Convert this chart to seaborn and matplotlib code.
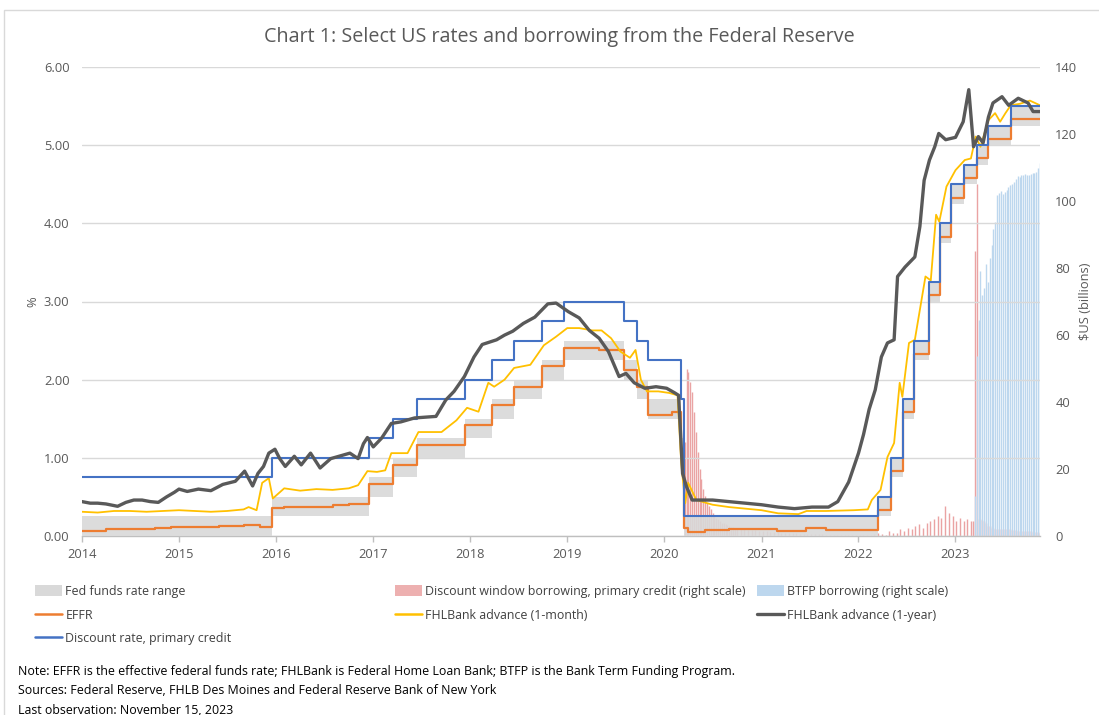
import numpy as np
import pandas as pd
import matplotlib
matplotlib.use("Agg")
import matplotlib.pyplot as plt
import matplotlib.dates as mdates
from matplotlib.patches import Patch, Rectangle
from matplotlib.lines import Line2D
import seaborn as sns

# ---------------- data ----------------
policy_dates = ['2014-01-01', '2015-12-17', '2016-12-15', '2017-03-16', '2017-06-15', '2017-12-14',
                '2018-03-22', '2018-06-14', '2018-09-27', '2018-12-20', '2019-08-01', '2019-09-19',
                '2019-10-31', '2020-03-04', '2020-03-16', '2022-03-17', '2022-05-05', '2022-06-16',
                '2022-07-28', '2022-09-22', '2022-11-03', '2022-12-15', '2023-02-02', '2023-03-23',
                '2023-05-04', '2023-07-27', '2023-11-15']
ffr_lower = [0.00, 0.25, 0.50, 0.75, 1.00, 1.25, 1.50, 1.75, 2.00, 2.25, 2.00, 1.75, 1.50, 1.00, 0.00,
             0.25, 0.75, 1.50, 2.25, 3.00, 3.75, 4.25, 4.50, 4.75, 5.00, 5.25, 5.25]
ffr_upper = [0.25, 0.50, 0.75, 1.00, 1.25, 1.50, 1.75, 2.00, 2.25, 2.50, 2.25, 2.00, 1.75, 1.25, 0.25,
             0.50, 1.00, 1.75, 2.50, 3.25, 4.00, 4.50, 4.75, 5.00, 5.25, 5.50, 5.50]
discount_rate = [0.75, 1.00, 1.25, 1.50, 1.75, 2.00, 2.25, 2.50, 2.75, 3.00, 2.75, 2.50, 2.25, 1.75, 0.25,
                 0.50, 1.00, 1.75, 2.50, 3.25, 4.00, 4.50, 4.75, 5.00, 5.25, 5.50, 5.50]

effr_dates = ['2014-01-01', '2014-04-01', '2014-08-01', '2014-10-01', '2014-12-01', '2015-03-01',
              '2015-06-01', '2015-09-01', '2015-11-01', '2015-12-17', '2016-02-01', '2016-05-01',
              '2016-08-01', '2016-10-01', '2016-12-15', '2017-03-16', '2017-06-15', '2017-12-14',
              '2018-03-22', '2018-06-14', '2018-09-27', '2018-12-20', '2019-04-01', '2019-05-01',
              '2019-08-01', '2019-09-19', '2019-10-31', '2020-02-01', '2020-03-04', '2020-03-16',
              '2020-04-01', '2020-06-01', '2020-09-01', '2021-03-01', '2021-06-17', '2021-09-01',
              '2022-03-17', '2022-05-05', '2022-06-16', '2022-07-28', '2022-09-22', '2022-11-03',
              '2022-12-15', '2023-02-02', '2023-03-23', '2023-05-04', '2023-07-27', '2023-11-15']
effr_vals = [0.07, 0.09, 0.09, 0.10, 0.12, 0.11, 0.13, 0.14, 0.12, 0.36, 0.37, 0.37, 0.40, 0.41, 0.66,
             0.91, 1.16, 1.42, 1.68, 1.91, 2.18, 2.40, 2.41, 2.38, 2.13, 1.90, 1.55, 1.58, 1.10, 0.10,
             0.05, 0.08, 0.09, 0.07, 0.10, 0.08, 0.33, 0.83, 1.58, 2.33, 3.08, 3.83, 4.33, 4.58, 4.83,
             5.08, 5.33, 5.33]

fhl1m_dates = ['2014-01-01', '2014-03-01', '2014-05-01', '2014-07-01', '2014-09-01', '2014-11-01',
               '2015-01-01', '2015-03-01', '2015-05-01', '2015-07-01', '2015-09-01', '2015-09-20',
               '2015-10-20', '2015-11-10', '2015-12-05', '2015-12-20', '2016-02-01', '2016-04-01',
               '2016-06-01', '2016-08-01', '2016-10-01', '2016-11-05', '2016-12-10', '2017-01-15',
               '2017-02-15', '2017-03-10', '2017-05-10', '2017-06-20', '2017-09-15', '2017-11-10',
               '2017-12-20', '2018-02-01', '2018-03-10', '2018-04-01', '2018-05-10', '2018-06-15',
               '2018-08-15', '2018-10-05', '2018-11-20', '2019-01-01', '2019-02-15', '2019-04-05',
               '2019-05-10', '2019-06-15', '2019-07-20', '2019-08-25', '2019-09-15', '2019-10-05',
               '2019-10-28', '2019-12-10', '2020-01-20', '2020-02-20', '2020-03-05', '2020-03-20',
               '2020-03-31', '2020-05-01', '2020-07-01', '2020-09-01', '2020-11-01', '2021-01-01',
               '2021-03-05', '2021-05-20', '2021-06-20', '2021-09-01', '2021-12-15', '2022-02-05',
               '2022-02-20', '2022-03-25', '2022-04-20', '2022-05-15', '2022-06-05', '2022-06-15',
               '2022-07-10', '2022-08-01', '2022-09-10', '2022-09-30', '2022-10-20', '2022-11-01',
               '2022-11-28', '2023-01-01', '2023-02-05', '2023-02-28', '2023-03-18', '2023-04-05',
               '2023-05-05', '2023-05-30', '2023-06-18', '2023-07-08', '2023-07-28', '2023-09-01',
               '2023-10-08', '2023-11-15']
fhl1m_vals = [0.31, 0.30, 0.32, 0.32, 0.31, 0.32, 0.33, 0.32, 0.31, 0.32, 0.34, 0.37, 0.33, 0.68, 0.74,
              0.48, 0.61, 0.58, 0.60, 0.59, 0.61, 0.65, 0.83, 0.82, 0.84, 1.06, 1.06, 1.33, 1.33, 1.48,
              1.64, 1.59, 1.96, 1.91, 2.00, 2.15, 2.19, 2.44, 2.55, 2.66, 2.66, 2.63, 2.63, 2.53, 2.36,
              2.28, 2.38, 2.00, 1.85, 1.85, 1.83, 1.80, 0.93, 0.42, 0.68, 0.46, 0.40, 0.37, 0.35, 0.33,
              0.29, 0.28, 0.32, 0.32, 0.33, 0.34, 0.46, 0.59, 1.01, 1.19, 1.96, 1.78, 2.47, 2.51, 3.32,
              3.27, 4.11, 4.02, 4.47, 4.68, 4.81, 4.83, 5.11, 4.98, 5.32, 5.41, 5.30, 5.41, 5.51, 5.53,
              5.57, 5.51]

fhl1y_dates = ['2014-01-01', '2014-02-01', '2014-03-01', '2014-04-01', '2014-05-15', '2014-06-15',
               '2014-07-15', '2014-08-15', '2014-09-15', '2014-10-15', '2014-11-15', '2014-12-15',
               '2015-01-01', '2015-02-01', '2015-03-15', '2015-05-01', '2015-06-15', '2015-08-01',
               '2015-09-05', '2015-10-05', '2015-10-25', '2015-11-15', '2015-12-05', '2015-12-28',
               '2016-01-15', '2016-02-05', '2016-03-10', '2016-04-05', '2016-05-10', '2016-06-15',
               '2016-07-25', '2016-08-25', '2016-10-05', '2016-11-05', '2016-11-25', '2016-12-10',
               '2017-01-01', '2017-02-01', '2017-03-10', '2017-04-15', '2017-06-05', '2017-07-15',
               '2017-08-25', '2017-10-01', '2017-11-01', '2017-12-10', '2018-01-15', '2018-02-15',
               '2018-04-10', '2018-05-10', '2018-06-10', '2018-07-20', '2018-09-01', '2018-10-20',
               '2018-11-20', '2019-01-05', '2019-02-15', '2019-03-25', '2019-05-01', '2019-06-05',
               '2019-07-15', '2019-08-10', '2019-09-10', '2019-10-20', '2019-12-01', '2020-01-10',
               '2020-02-10', '2020-02-24', '2020-03-05', '2020-03-10', '2020-03-25', '2020-04-15',
               '2020-07-01', '2020-10-01', '2020-11-01', '2021-01-01', '2021-03-05', '2021-05-05',
               '2021-07-10', '2021-09-10', '2021-10-15', '2021-11-25', '2022-01-01', '2022-01-20',
               '2022-02-10', '2022-03-05', '2022-03-28', '2022-04-20', '2022-05-15', '2022-05-28',
               '2022-06-25', '2022-08-01', '2022-08-20', '2022-09-05', '2022-09-25', '2022-10-15',
               '2022-10-30', '2022-11-25', '2023-01-01', '2023-01-30', '2023-02-20', '2023-03-10',
               '2023-03-28', '2023-04-15', '2023-05-05', '2023-05-22', '2023-06-25', '2023-07-20',
               '2023-08-25', '2023-10-01', '2023-10-20', '2023-11-15']
fhl1y_vals = [0.44, 0.42, 0.42, 0.41, 0.38, 0.43, 0.46, 0.46, 0.44, 0.43, 0.50, 0.56, 0.60, 0.57, 0.60,
              0.58, 0.66, 0.70, 0.83, 0.64, 0.80, 0.89, 1.06, 1.11, 0.99, 0.89, 1.02, 0.91, 1.06, 0.87,
              0.99, 1.02, 1.06, 0.99, 1.18, 1.26, 1.14, 1.25, 1.44, 1.46, 1.51, 1.52, 1.53, 1.74, 1.85,
              2.04, 2.29, 2.45, 2.51, 2.57, 2.62, 2.72, 2.80, 2.97, 2.98, 2.87, 2.79, 2.63, 2.53, 2.36,
              2.04, 2.08, 1.96, 1.89, 1.91, 1.89, 1.83, 1.80, 1.14, 0.80, 0.63, 0.46, 0.46, 0.43, 0.42,
              0.40, 0.37, 0.35, 0.37, 0.37, 0.44, 0.69, 1.06, 1.30, 1.62, 1.87, 2.29, 2.47, 2.51, 3.32,
              3.44, 3.57, 3.96, 4.55, 4.81, 4.98, 5.15, 5.07, 5.10, 5.30, 5.71, 4.98, 5.11, 5.03, 5.36,
              5.54, 5.62, 5.51, 5.60, 5.54, 5.43, 5.43]

# Discount window borrowing, primary credit ($bn): weekly, then biweekly, then weekly
dw_vals_a = [28, 50, 49, 46, 43, 37, 31, 25, 20, 17, 14, 12, 10, 9, 8, 7, 6, 5.5, 5, 4.5, 4, 3.8, 3.5,
             3.2, 3.0, 2.8, 2.6, 2.4, 2.2]
dw_vals_b = [2.1, 2.0, 1.9, 1.8, 1.7, 1.6, 1.5, 1.4, 1.3, 1.2, 1.1, 1.0, 1.0, 0.9, 0.8, 0.8, 0.7, 0.7,
             0.6, 0.6, 0.5, 0.5, 0.5, 0.4, 0.4, 0.4, 0.4, 0.4, 0.3, 0.3, 0.3, 0.3, 0.3, 0.3, 0.3, 0.3,
             0.5, 1.0, 0.6, 0.4, 1.5, 1.0, 0.8, 2.0, 1.5, 2.5, 2.0, 3.0, 3.5, 2.5, 4.0, 4.5, 5.0, 6.0,
             5.5, 9.0, 7.0, 6.0, 4.5, 5.5, 4.5, 5.0, 4.5]
dw_vals_c = [4.6, 85, 105, 5, 5, 4.7, 4.5, 4, 3, 3, 2.5, 2.5, 2, 2, 2, 2, 2, 2, 2, 2, 2, 1.8, 1.8, 1.8,
             1.5, 1.5, 1.5, 1.5, 1.5, 1.5, 1.5, 1.5, 1.2, 1.2, 1.2, 1.2, 1.0]
# BTFP borrowing ($bn), weekly from 15 March 2023
btfp_vals = [11.9, 53.7, 64.4, 79.0, 71.8, 74.0, 81.3, 75.8, 83.1, 86.8, 91.6, 93.6, 101.9, 102.3,
             103.1, 102.2, 102.6, 103.2, 104.1, 104.9, 105.1, 105.7, 106.6, 107.6, 107.1, 107.9,
             107.7, 108.0, 107.9, 107.7, 108.0, 108.4, 108.3, 108.8, 109.8, 111.3]

title = "Chart 1: Select US rates and borrowing from the Federal Reserve"
legend_labels = ["Fed funds rate range", "EFFR", "Discount rate, primary credit",
                 "Discount window borrowing, primary credit (right scale)", "FHLBank advance (1-month)",
                 "BTFP borrowing (right scale)", "FHLBank advance (1-year)"]
notes = ["Note: EFFR is the effective federal funds rate; FHLBank is Federal Home Loan Bank; BTFP is the Bank Term Funding Program.",
         "Sources: Federal Reserve, FHLB Des Moines and Federal Reserve Bank of New York",
         "Last observation: November 15, 2023"]

# ---------------- frames ----------------
pol = pd.DataFrame({"date": pd.to_datetime(policy_dates), "lo": ffr_lower, "hi": ffr_upper,
                    "disc": discount_rate})
effr = pd.DataFrame({"date": pd.to_datetime(effr_dates), "v": effr_vals})
m1 = pd.DataFrame({"date": pd.to_datetime(fhl1m_dates), "v": fhl1m_vals})
y1 = pd.DataFrame({"date": pd.to_datetime(fhl1y_dates), "v": fhl1y_vals})
dw = pd.concat([
    pd.DataFrame({"date": pd.date_range("2020-03-18", periods=len(dw_vals_a), freq="7D"), "v": dw_vals_a}),
    pd.DataFrame({"date": pd.date_range("2020-10-14", periods=len(dw_vals_b), freq="14D"), "v": dw_vals_b}),
    pd.DataFrame({"date": pd.date_range("2023-03-08", periods=len(dw_vals_c), freq="7D"), "v": dw_vals_c}),
])
btfp = pd.DataFrame({"date": pd.date_range("2023-03-15", periods=len(btfp_vals), freq="7D"), "v": btfp_vals})

# ---------------- style ----------------
sns.set_theme(style="white")
plt.rcParams["font.family"] = ["Open Sans", "DejaVu Sans"]
TXT = "#595959"
LEGTXT = "#404040"
C_BAND = "#d9d9d9"
C_DW = "#eaa3a3"
C_BTFP = "#bdd7ee"
C_EFFR = "#ed7d31"
C_M1 = "#ffc000"
C_Y1 = "#595959"
C_DISC = "#4472c4"

W, H = 1099, 715
fig = plt.figure(figsize=(W / 100, H / 100), dpi=100)
fig.patch.set_facecolor("white")
fig.add_artist(Rectangle((4 / W, -0.05), 1.2, 1 - 10 / H + 0.05, transform=fig.transFigure,
                         fill=False, edgecolor="#d9d9d9", lw=1.0))

L, R, T, B = 82, 1040, 67, 536
ax = fig.add_axes([L / W, 1 - B / H, (R - L) / W, (B - T) / H])
ax2 = ax.twinx()
ax.set_zorder(ax2.get_zorder() + 1)
ax.patch.set_visible(False)

# bars (right scale)
ax2.vlines(dw["date"], 0, dw["v"], color=C_DW, lw=1.0)
ax2.vlines(btfp["date"], 0, btfp["v"], color=C_BTFP, lw=1.0)

# band
ax.fill_between(pol["date"], pol["lo"], pol["hi"], step="post", color=C_BAND, lw=0, zorder=1, alpha=0.9)

sns.lineplot(data=effr, x="date", y="v", ax=ax, color=C_EFFR, lw=1.6, drawstyle="steps-post",
             legend=False, zorder=3)
sns.lineplot(data=m1, x="date", y="v", ax=ax, color=C_M1, lw=1.3, legend=False, zorder=4)
sns.lineplot(data=pol, x="date", y="disc", ax=ax, color=C_DISC, lw=1.5, drawstyle="steps-post",
             legend=False, zorder=5)
sns.lineplot(data=y1, x="date", y="v", ax=ax, color=C_Y1, lw=2.4, legend=False, zorder=6)

x0, x1 = pd.Timestamp("2014-01-01"), pd.Timestamp("2023-11-15")
ax.set_xlim(x0, x1)
ax.set_ylim(0, 6)
ax2.set_ylim(0, 140)
ax.set_yticks(np.arange(0, 6.01, 1.0))
ax.yaxis.set_major_formatter(matplotlib.ticker.FormatStrFormatter("%.2f"))
ax2.set_yticks(np.arange(0, 141, 20))
ax.xaxis.set_major_locator(mdates.YearLocator())
ax.xaxis.set_major_formatter(mdates.DateFormatter("%Y"))

ax.yaxis.grid(True, color="#d9d9d9", lw=1.0)
ax.xaxis.grid(False)
ax2.grid(False)
ax.set_axisbelow(True)
for a in (ax, ax2):
    for s in a.spines.values():
        s.set_visible(False)
ax.spines["bottom"].set_visible(True)
ax.spines["bottom"].set_color("#bfbfbf")
ax.spines["bottom"].set_linewidth(1.0)
ax.spines["bottom"].set_zorder(0.5)

ax.tick_params(axis="x", direction="out", length=4, width=1, color="#bfbfbf", labelsize=9.3,
               labelcolor=TXT, pad=5, bottom=True)
ax.tick_params(axis="y", length=0, labelsize=9.3, labelcolor=TXT, pad=9)
ax2.tick_params(axis="y", length=0, labelsize=9.3, labelcolor=TXT, pad=11)
ax.set_xlabel("")
ax.set_ylabel("%", color=TXT, fontsize=9.3, labelpad=3)
ax2.set_ylabel(r"\$US (billions)", color=TXT, fontsize=9.3, labelpad=1)

fig.text(0.509, 1 - 37 / H, title, ha="center", va="center", fontsize=14.2, color=TXT)

# legends: three column blocks
h_band = Patch(facecolor=C_BAND, edgecolor="none")
h_dw = Patch(facecolor=C_DW, edgecolor="none", alpha=0.85)
h_btfp = Patch(facecolor=C_BTFP, edgecolor="none")
h_effr = Line2D([], [], color=C_EFFR, lw=1.8)
h_m1 = Line2D([], [], color=C_M1, lw=1.8)
h_y1 = Line2D([], [], color=C_Y1, lw=2.4)
h_disc = Line2D([], [], color=C_DISC, lw=1.8)

FS = 8.9
leg_kw = dict(loc="upper left", frameon=False, fontsize=FS, labelcolor=LEGTXT, handlelength=2.2,
              handleheight=1.0, handletextpad=0.25, labelspacing=0.85, borderpad=0, borderaxespad=0)
top_y = 1 - 585 / H
fig.legend([h_band, h_effr, h_disc], legend_labels[0:3], bbox_to_anchor=(35 / W, top_y), **leg_kw)
fig.legend([h_dw, h_m1], legend_labels[3:5], bbox_to_anchor=(395 / W, top_y), **leg_kw)
fig.legend([h_btfp, h_y1], legend_labels[5:7], bbox_to_anchor=(757 / W, top_y), **leg_kw)

for txt, yy in zip(notes, [672, 691, 710]):
    fig.text(18 / W, 1 - yy / H, txt, ha="left", va="center", fontsize=FS, color="black")

fig.savefig("out.png", dpi=100)
